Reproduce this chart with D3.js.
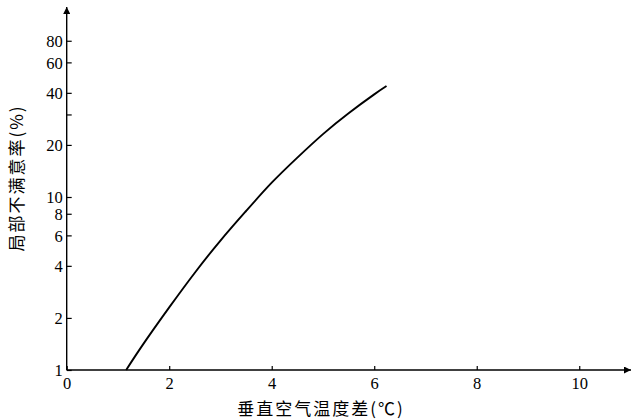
<!DOCTYPE html>
<html>
<head>
<meta charset="utf-8">
<title>局部不满意率</title>
<style>
	body { margin: 0; background: #fff; }
	.num { font-family: "Liberation Serif", "Times New Roman", Times, serif; font-size: 16.5px; }
	.cjk { font-family: "Noto Sans CJK SC", sans-serif; font-size: 17px; letter-spacing: 2px; }
</style>
<script src="https://cdnjs.cloudflare.com/ajax/libs/d3/7.8.5/d3.min.js"></script>
</head>
<body>
<div id="chart"></div>
<script>
// curve: temperature difference (℃) vs local discomfort (%)
var tempDiff = [1.16, 1.5, 2.0, 2.5, 3.0, 3.5, 4.0, 4.5, 5.0, 5.5, 6.0, 6.24];
var discomfort = [1.0, 1.42, 2.3, 3.65, 5.6, 8.3, 12.1, 16.9, 23.1, 30.5, 39.2, 43.8];

var xTicks = [0, 2, 4, 6, 8, 10];
var yTicks = [1, 2, 4, 6, 8, 10, 20, 30, 40, 60, 80];
var yLabelled = [1, 2, 4, 6, 8, 10, 20, 40, 60, 80];

var xTitle = "垂直空气温度差(℃)";
var yTitle = "局部不满意率(%)";

var width = 632, height = 419;

var svg = d3.select("#chart").append("svg")
	.attr("width", width)
	.attr("height", height);

var x = d3.scaleLinear().domain([0, 11]).range([66.7, 630.5]);
var y = d3.scaleLog().domain([1, 100]).range([370, 24]);

var defs = svg.append("defs");
defs.append("marker")
	.attr("id", "arrow")
	.attr("viewBox", "0 0 10 10")
	.attr("refX", 10).attr("refY", 5)
	.attr("markerWidth", 10).attr("markerHeight", 7)
	.attr("markerUnits", "userSpaceOnUse")
	.attr("orient", "auto")
	.append("path")
	.attr("d", "M0,0L10,5L0,10Z")
	.attr("fill", "#000");

// axes lines with arrows
svg.append("line")
	.attr("x1", x(0)).attr("y1", y(1))
	.attr("x2", 631).attr("y2", y(1))
	.attr("stroke", "#000").attr("stroke-width", 1.4)
	.attr("marker-end", "url(#arrow)");
svg.append("line")
	.attr("x1", x(0)).attr("y1", y(1))
	.attr("x2", x(0)).attr("y2", 7)
	.attr("stroke", "#000").attr("stroke-width", 1.4)
	.attr("marker-end", "url(#arrow)");

var xAxis = svg.append("g")
	.attr("transform", "translate(0," + y(1) + ")")
	.call(d3.axisBottom(x).tickValues(xTicks).tickSizeInner(-4).tickSizeOuter(0).tickPadding(7));

var yAxis = svg.append("g")
	.attr("transform", "translate(" + x(0) + ",0)")
	.call(d3.axisLeft(y).tickValues(yTicks).tickSizeInner(-5).tickSizeOuter(0).tickPadding(4)
		.tickFormat(function(d) { return yLabelled.indexOf(d) >= 0 ? d : ""; }));

[xAxis, yAxis].forEach(function(g) {
	g.attr("font-family", null).attr("font-size", null);
	g.select(".domain").remove();
	g.selectAll(".tick line").attr("stroke", "#000").attr("stroke-width", 1.2);
	g.selectAll(".tick text").attr("fill", "#000").attr("class", "num");
});
yAxis.selectAll(".tick text").attr("dy", "0.34em");

var pts = tempDiff.map(function(t, i) { return [t, discomfort[i]]; });
var line = d3.line()
	.x(function(d) { return x(d[0]); })
	.y(function(d) { return y(d[1]); })
	.curve(d3.curveNatural);

svg.append("path")
	.datum(pts)
	.attr("d", line)
	.attr("fill", "none")
	.attr("stroke", "#000")
	.attr("stroke-width", 1.9);

svg.append("text")
	.attr("class", "cjk")
	.attr("x", 321).attr("y", 415)
	.attr("text-anchor", "middle")
	.text(xTitle);

svg.append("text")
	.attr("class", "cjk")
	.attr("transform", "translate(23,178) rotate(-90)")
	.attr("text-anchor", "middle")
	.text(yTitle);
</script>
</body>
</html>
